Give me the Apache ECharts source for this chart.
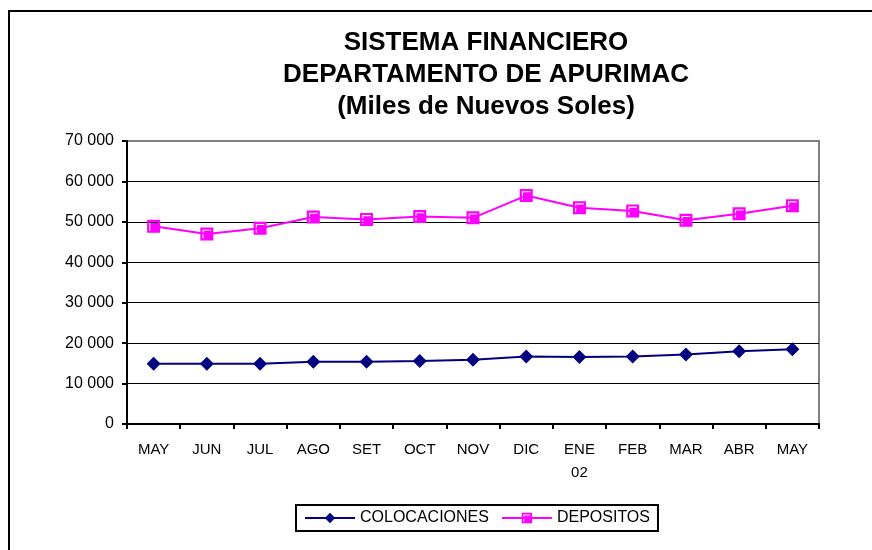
<!DOCTYPE html>
<html>
<head>
<meta charset="utf-8">
<script src="https://cdn.jsdelivr.net/npm/echarts@6/dist/echarts.min.js"></script>
<style>
html,body{margin:0;padding:0;background:#fff;}
#chart{width:872px;height:550px;}
</style>
</head>
<body>
<div id="chart"></div>
<script>
const categories = ['MAY','JUN','JUL','AGO','SET','OCT','NOV','DIC','ENE\n02','FEB','MAR','ABR','MAY'];
const colocaciones = [14900, 14900, 14900, 15400, 15400, 15600, 15900, 16700, 16600, 16700, 17200, 18000, 18500];
const depositos = [48900, 47000, 48400, 51200, 50600, 51300, 51000, 56500, 53500, 52700, 50400, 52000, 54000];
const titleText = 'SISTEMA FINANCIERO\nDEPARTAMENTO DE APURIMAC\n(Miles de Nuevos Soles)';

const FONT = 'Liberation Sans, Arial, sans-serif';
const sqSymbol = 'path://M0 0H12V12H0Z M2 2V10H3V3H10V2Z';

const chart = echarts.init(document.getElementById('chart'), null, {renderer: 'canvas'});
chart.setOption({
  backgroundColor: '#fff',
  animation: false,
  title: {
    text: titleText,
    left: 481,
    top: 22,
    textAlign: 'center',
    textStyle: {fontFamily: FONT, fontSize: 26, fontWeight: 'bold', color: '#000', lineHeight: 32}
  },
  graphic: [{
    type: 'rect', shape: {x: 9, y: 11, width: 900, height: 600},
    style: {fill: 'none', stroke: '#000', lineWidth: 2}, silent: true, z: 100
  }],
  legend: {
    left: 296, top: 505,
    padding: [5, 8, 5, 8],
    borderColor: '#000', borderWidth: 2,
    itemWidth: 50, itemHeight: 13, itemGap: 12,
    textStyle: {fontFamily: FONT, fontSize: 16, color: '#000'},
    data: ['COLOCACIONES', 'DEPOSITOS']
  },
  grid: {left: 127, right: 53, top: 141, bottom: 126, show: true, borderColor: '#808080', borderWidth: 2, backgroundColor: 'transparent'},
  xAxis: {
    type: 'category', data: categories, boundaryGap: true,
    axisLine: {lineStyle: {color: '#000', width: 2}},
    axisTick: {show: true, length: 5, lineStyle: {color: '#000', width: 2}},
    axisLabel: {fontFamily: FONT, fontSize: 15, color: '#000', margin: 14, lineHeight: 23, interval: 0}
  },
  yAxis: {
    type: 'value', min: 0, max: 70000, interval: 10000,
    axisLine: {show: true, lineStyle: {color: '#000', width: 2}},
    axisTick: {show: true, length: 5, lineStyle: {color: '#000', width: 2}},
    splitLine: {show: true, lineStyle: {color: ['#000','#000','#000','#000','#000','#000','#000','#808080'], width: 1}},
    axisLabel: {fontFamily: FONT, fontSize: 16, color: '#000', margin: 13,
      formatter: v => String(v).replace(/\B(?=(\d{3})+(?!\d))/g, ' ')}
  },
  series: [
    {
      name: 'COLOCACIONES', type: 'line', data: colocaciones,
      symbol: 'diamond', symbolSize: 14,
      lineStyle: {color: '#000080', width: 2},
      itemStyle: {color: '#000080'}
    },
    {
      name: 'DEPOSITOS', type: 'line', data: depositos,
      symbol: sqSymbol, symbolSize: 13,
      lineStyle: {color: '#FF00FF', width: 2},
      itemStyle: {color: '#FF00FF'}
    }
  ]
});
</script>
</body>
</html>
